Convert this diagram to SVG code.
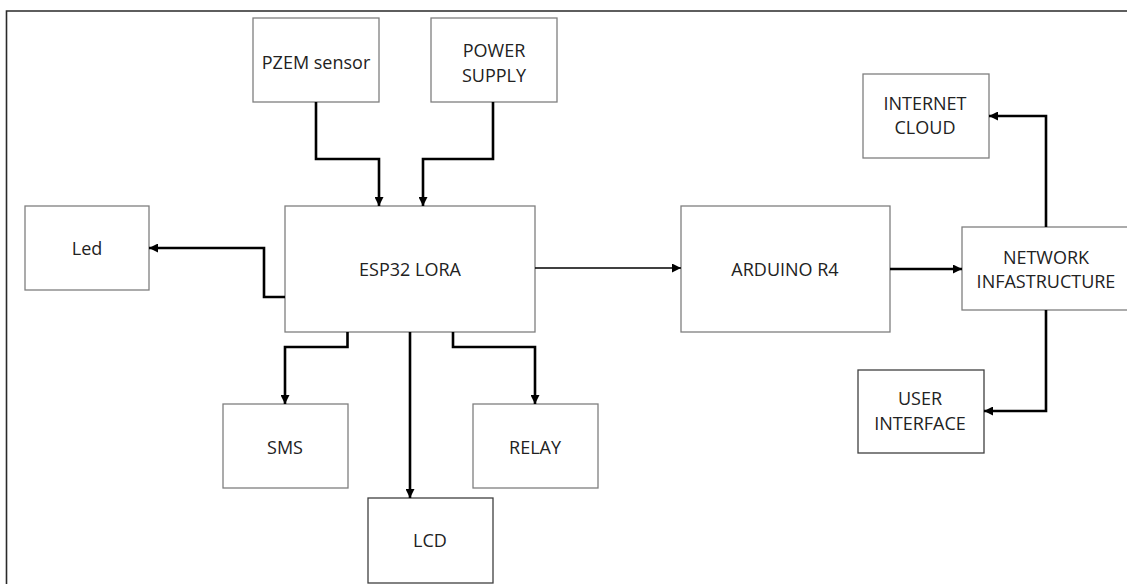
<svg xmlns="http://www.w3.org/2000/svg" width="1127" height="584" viewBox="0 0 1127 584">
<style>
.box{fill:#fff;stroke:#7f7f7f;stroke-width:1.3}
.dark{stroke:#404040}
.t{font-family:"Open Sans","Liberation Sans",sans-serif;font-size:18px;fill:#222;text-anchor:middle;dominant-baseline:central}
.c{fill:none;stroke:#000;stroke-width:2.6;marker-end:url(#ah)}
.thin{stroke-width:1.5}
</style>
<defs>
<marker id="ah" viewBox="0 0 10 10" refX="10" refY="5" markerWidth="9" markerHeight="9" markerUnits="userSpaceOnUse" orient="auto">
<path d="M0,0 L10,5 L0,10 z" fill="#000"/>
</marker>
</defs>
<rect x="0" y="0" width="1127" height="584" fill="#fff"/>
<path d="M6.5,584 V11 H1127" fill="none" stroke="#2a2a2a" stroke-width="1.6"/>
<g id="pzem"><rect class="box" x="253" y="18" width="126" height="84"/><text class="t" x="316" y="62">PZEM sensor</text></g>
<g id="power"><rect class="box" x="431" y="18" width="126" height="84"/><text class="t" x="494" y="50">POWER</text><text class="t" x="494" y="75">SUPPLY</text></g>
<g id="led"><rect class="box" x="25" y="206" width="124" height="84"/><text class="t" x="87" y="248">Led</text></g>
<g id="esp32"><rect class="box" x="285" y="206" width="250" height="126"/><text class="t" x="410" y="269">ESP32 LORA</text></g>
<g id="arduino"><rect class="box" x="681" y="206" width="209" height="126"/><text class="t" x="785" y="269">ARDUINO R4</text></g>
<g id="internet"><rect class="box" x="863" y="74" width="126" height="84"/><text class="t" x="925" y="103">INTERNET</text><text class="t" x="925" y="127">CLOUD</text></g>
<g id="network"><rect class="box" x="962" y="227" width="170" height="83"/><text class="t" x="1046" y="257">NETWORK</text><text class="t" x="1046" y="281">INFASTRUCTURE</text></g>
<g id="user"><rect class="box dark" x="858" y="370" width="126" height="83"/><text class="t" x="920" y="398">USER</text><text class="t" x="920" y="423">INTERFACE</text></g>
<g id="sms"><rect class="box" x="223" y="404" width="125" height="84"/><text class="t" x="285" y="447">SMS</text></g>
<g id="relay"><rect class="box" x="473" y="404" width="125" height="84"/><text class="t" x="535" y="447">RELAY</text></g>
<g id="lcd"><rect class="box dark" x="368" y="498" width="125" height="85"/><text class="t" x="430" y="540">LCD</text></g>
<g id="connectors">
<path class="c" d="M316,102 V159 H379 V206"/>
<path class="c" d="M493,102 V159 H423 V206"/>
<path class="c" d="M285,297 H264 V248 H149"/>
<path class="c" d="M347.5,332 V347 H285 V404"/>
<path class="c" d="M410,332 V498"/>
<path class="c" d="M453,332 V347 H535 V404"/>
<path class="c thin" d="M535,268 H681"/>
<path class="c" d="M890,269 H962"/>
<path class="c" d="M1046,227 V116 H989"/>
<path class="c" d="M1046,310 V411 H984"/>
</g>
</svg>
